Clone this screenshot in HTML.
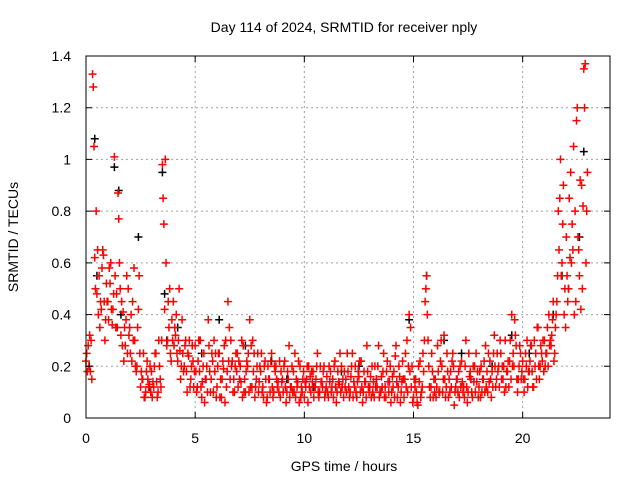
<!DOCTYPE html>
<html><head><meta charset="utf-8"><style>
body{margin:0;background:#fff}
svg{display:block;font-family:"Liberation Sans",sans-serif}
</style></head><body>
<svg id="chart" width="640" height="480">
<rect width="640" height="480" fill="#fff"/>
<g id="grid"></g>
<g id="marks"></g>
<rect x="86" y="56" width="524" height="362" fill="none" stroke="#000" stroke-width="1"/>
<g id="ticks"></g>
<text x="344" y="32" text-anchor="middle" font-size="14">Day 114 of 2024, SRMTID for receiver nply</text>
<text x="344" y="471" text-anchor="middle" font-size="14">GPS time / hours</text>
<text x="18" y="237" text-anchor="middle" font-size="14" transform="rotate(-90 18 237)">SRMTID / TECUs</text>
</svg>
<script>
const xTicks=[0,5,10,15,20];
const yTicks=[0,0.2,0.4,0.6,0.8,1,1.2,1.4];
const yTickLabels=["0","0.2","0.4","0.6","0.8","1","1.2","1.4"];
const redA=[0.22,0.28,0.18,1.33,0.62,0.48,0.55,0.42,0.63,0.38,
0.45,0.52,0.36,1.01,0.48,0.77,0.32,0.41,0.28,0.25,
0.35,0.22,0.58,0.18,0.42,0.12,0.15,0.08,0.22,0.13,
0.18,0.12,0.25,0.1,0.15,0.98,0.42,0.28,0.35,0.22,
0.45,0.32,0.22,0.26,0.38,0.2,0.18,0.24,0.15,0.22,
0.28,0.12,0.18,0.08,0.25,0.15,0.38,0.1,0.22,0.18,
0.12,0.25,0.08,0.19,0.3,0.45,0.15,0.22,0.1,0.18,
0.22,0.14,0.28,0.1,0.2,0.38,0.12,0.25,0.15,0.1,
0.18,0.12,0.22,0.08,0.15,0.25,0.1,0.2,0.14,0.08,
0.15,0.22,0.1,0.28,0.12,0.18,0.08,0.14,0.2,0.1,
0.08,0.15,0.2,0.1,0.18,0.12,0.25,0.1,0.14,0.2,
0.12,0.08,0.18,0.15,0.22,0.1,0.13,0.2,0.08,0.15,
0.18,0.1,0.25,0.12,0.08,0.16,0.22,0.1,0.14,0.18,
0.12,0.2,0.08,0.15,0.28,0.1,0.18,0.12,0.22,0.14,
0.1,0.18,0.28,0.12,0.06,0.22,0.15,0.3,0.4,0.12,
0.08,0.15,0.05,0.22,0.12,0.3,0.55,0.2,0.12,0.08,
0.15,0.28,0.1,0.2,0.32,0.12,0.08,0.18,0.25,0.1,
0.15,0.08,0.22,0.12,0.3,0.1,0.18,0.08,0.2,0.14,
0.12,0.2,0.15,0.28,0.1,0.22,0.18,0.32,0.15,0.2,
0.25,0.15,0.3,0.18,0.22,0.4,0.2,0.28,0.15,0.25,
0.22,0.15,0.3,0.18,0.28,0.12,0.25,0.35,0.2,0.22,
0.3,0.25,0.4,0.28,0.45,0.35,0.55,0.85,0.6,0.4,
0.7,0.5,0.95,0.65,0.8,1.2,0.55,0.9,1.35,0.6];
const redB=[0.25,0.2,0.3,1.28,0.5,0.65,0.35,0.58,0.45,0.52,
0.38,0.6,0.42,0.55,0.35,0.6,0.45,0.22,0.38,0.5,
0.25,0.45,0.3,0.2,0.55,0.18,0.25,0.1,0.15,0.2,
0.08,0.2,0.14,0.3,0.12,0.85,1.0,0.3,0.5,0.38,
0.28,0.4,0.3,0.15,0.25,0.28,0.1,0.3,0.2,0.12,
0.18,0.22,0.3,0.14,0.06,0.2,0.28,0.15,0.1,0.25,
0.2,0.08,0.15,0.28,0.12,0.22,0.3,0.1,0.2,0.25,
0.15,0.3,0.1,0.18,0.25,0.12,0.3,0.08,0.2,0.14,
0.25,0.08,0.15,0.2,0.1,0.12,0.2,0.15,0.1,0.18,
0.1,0.12,0.18,0.08,0.2,0.1,0.15,0.22,0.08,0.15,
0.14,0.2,0.12,0.18,0.08,0.15,0.1,0.2,0.12,0.08,
0.16,0.2,0.1,0.08,0.12,0.18,0.25,0.12,0.18,0.1,
0.12,0.16,0.08,0.2,0.14,0.22,0.12,0.18,0.08,0.12,
0.16,0.1,0.2,0.12,0.08,0.16,0.25,0.08,0.14,0.2,
0.16,0.08,0.14,0.2,0.1,0.15,0.25,0.1,0.18,0.2,
0.15,0.1,0.2,0.08,0.25,0.45,0.4,0.12,0.25,0.15,
0.08,0.18,0.22,0.1,0.15,0.25,0.15,0.12,0.2,0.12,
0.1,0.2,0.14,0.08,0.12,0.25,0.15,0.2,0.1,0.18,
0.18,0.1,0.22,0.12,0.25,0.15,0.12,0.2,0.25,0.12,
0.15,0.2,0.12,0.22,0.3,0.2,0.38,0.15,0.2,0.15,
0.15,0.25,0.12,0.22,0.18,0.3,0.15,0.2,0.28,0.3,
0.2,0.35,0.28,0.32,0.22,0.4,0.8,1.0,0.75,0.5,
0.55,0.85,0.6,1.05,0.45,0.7,0.92,0.5,1.2,0.8];
const redC=[0.18,0.32,0.15,1.05,0.8,0.4,0.45,0.65,0.3,0.45,
0.58,0.42,0.48,0.35,0.87,0.5,0.28,0.35,0.55,0.32,
0.4,0.3,0.2,0.35,0.25,0.15,0.08,0.18,0.12,0.1,
0.14,0.25,0.08,0.2,0.3,0.75,0.6,0.45,0.25,0.3,
0.35,0.25,0.5,0.2,0.18,0.3,0.25,0.12,0.28,0.18,
0.1,0.3,0.12,0.2,0.15,0.1,0.18,0.25,0.3,0.08,
0.25,0.15,0.22,0.06,0.18,0.35,0.2,0.15,0.25,0.12,
0.2,0.08,0.15,0.22,0.1,0.28,0.18,0.12,0.25,0.2,
0.1,0.2,0.06,0.15,0.22,0.08,0.18,0.12,0.22,0.14,
0.2,0.06,0.15,0.12,0.1,0.25,0.12,0.06,0.12,0.18,
0.12,0.06,0.16,0.14,0.12,0.2,0.08,0.14,0.18,0.1,
0.1,0.14,0.12,0.2,0.06,0.14,0.1,0.15,0.12,0.25,
0.08,0.2,0.14,0.1,0.18,0.1,0.06,0.14,0.28,0.1,
0.08,0.14,0.12,0.2,0.1,0.12,0.08,0.18,0.1,0.06,
0.12,0.24,0.08,0.16,0.14,0.08,0.12,0.2,0.35,0.06,
0.12,0.06,0.14,0.1,0.18,0.5,0.3,0.08,0.18,0.1,
0.12,0.1,0.3,0.15,0.08,0.18,0.1,0.22,0.05,0.15,
0.18,0.12,0.1,0.2,0.06,0.16,0.1,0.14,0.25,0.08,
0.08,0.15,0.1,0.18,0.14,0.08,0.25,0.12,0.18,0.3,
0.2,0.1,0.18,0.12,0.15,0.25,0.32,0.1,0.28,0.18,
0.1,0.2,0.18,0.28,0.12,0.2,0.35,0.15,0.25,0.18,
0.25,0.2,0.3,0.38,0.25,0.45,0.65,0.55,0.9,0.35,
0.45,0.62,0.75,0.4,1.15,0.65,0.42,0.82,1.37,0.95];
const blackT=[0.15,0.4,0.5,1.3,1.5,1.6,2.4,2.9,3.5,3.6,3.7,4.2,5.3,6.1,7.3,8.5,9.2,10.4,11.7,12.5,13.3,14.8,15.6,16.4,17.2,18.6,19.5,20.3,21.4,21.8,22.1,22.6,22.8];
const blackV=[0.2,1.08,0.55,0.97,0.88,0.4,0.7,0.12,0.95,0.48,0.3,0.35,0.25,0.38,0.28,0.22,0.15,0.12,0.18,0.2,0.15,0.38,0.55,0.3,0.25,0.2,0.32,0.25,0.4,0.55,0.5,0.7,1.03];

const X0=86,X1=610,Y0=418,Y1=56;
const xs=t=>X0+t/24*(X1-X0);
const ys=v=>Y0-v/1.4*(Y0-Y1);
const NS='http://www.w3.org/2000/svg';
const grid=document.getElementById('grid'),ticks=document.getElementById('ticks'),marks=document.getElementById('marks');
function mk(tag,attrs,parent){const e=document.createElementNS(NS,tag);for(const k in attrs)e.setAttribute(k,attrs[k]);parent.appendChild(e);return e;}
xTicks.forEach(t=>{
  const x=xs(t);
  if(t>0){const g=mk('line',{x1:x,x2:x,y1:Y1,y2:Y0,stroke:'#a0a0a0','stroke-dasharray':'2,3'},grid);
  
  }
  const l=mk('path',{d:`M${x} ${Y0}v-6M${x} ${Y1}v6`,stroke:'#000'},ticks);
  
  
  const tx=mk('text',{x:x,y:443,'text-anchor':'middle','font-size':14},ticks);tx.textContent=t;
  
  
});
yTicks.forEach((v,i)=>{
  const y=ys(v);
  if(v>0&&v<1.4){const g=mk('line',{x1:X0,x2:X1,y1:y,y2:y,stroke:'#a0a0a0','stroke-dasharray':'2,3'},grid);
  
  }
  const l=mk('path',{d:`M${X0} ${y}h6M${X1} ${y}h-6`,stroke:'#000'},ticks);
  
  
  const tx=mk('text',{x:71,y:y+5,'text-anchor':'end','font-size':14},ticks);tx.textContent=yTickLabels[i];
  
  
});
function plus(t,v,color,name){
  const x=xs(t),y=ys(v);
  const p=mk('path',{d:`M${x-4} ${y}h8M${x} ${y-4}v8`,stroke:color,'stroke-width':1.5},marks);
  
  
}
blackT.forEach((t,i)=>plus(t,blackV[i],'#000','black-point'));
[[redA,0],[redB,0.033],[redC,0.066]].forEach(([arr,off])=>{
  arr.forEach((v,i)=>plus(i*0.1+off,v,'#f00','red-point'));
});
</script>
</body></html>
